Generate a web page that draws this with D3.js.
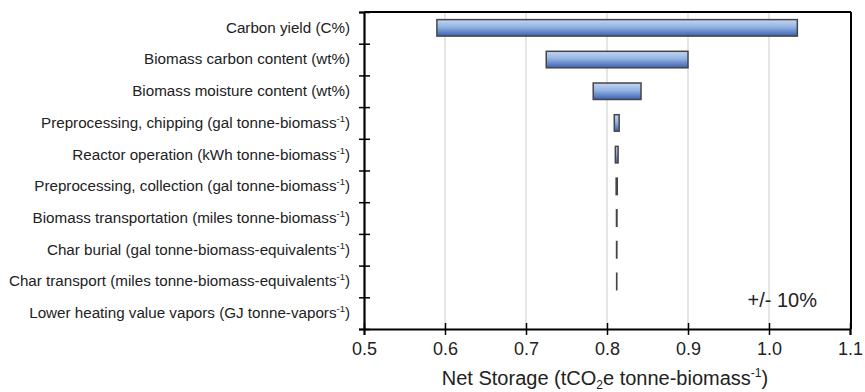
<!DOCTYPE html>
<html>
<head>
<meta charset="utf-8">
<script src="https://cdn.jsdelivr.net/npm/d3@7"></script>
<style>
  html, body { margin: 0; padding: 0; background: #fff; }
  svg { display: block; font-family: "Liberation Sans", Arial, Helvetica, sans-serif; }
</style>
</head>
<body>
<svg id="chart" width="865" height="392"></svg>
<script>
// Tornado chart: sensitivity of net storage to +/- 10% changes in each parameter.
// "^{...}" marks a superscript in a label.
const categories = [
  "Carbon yield (C%)",
  "Biomass carbon content (wt%)",
  "Biomass moisture content (wt%)",
  "Preprocessing, chipping (gal tonne-biomass^{-1})",
  "Reactor operation (kWh tonne-biomass^{-1})",
  "Preprocessing, collection (gal tonne-biomass^{-1})",
  "Biomass transportation (miles tonne-biomass^{-1})",
  "Char burial (gal tonne-biomass-equivalents^{-1})",
  "Char transport (miles tonne-biomass-equivalents^{-1})",
  "Lower heating value vapors (GJ tonne-vapors^{-1})"
];
const lowValues  = [0.590, 0.725, 0.783, 0.809, 0.8103, 0.8113, 0.8117, 0.8118, 0.8119, 0.812];
const highValues = [1.035, 0.900, 0.842, 0.815, 0.8137, 0.8127, 0.8123, 0.8122, 0.8121, 0.812];
const xTicks = [0.5, 0.6, 0.7, 0.8, 0.9, 1.0, 1.1];
const annotation = "+/- 10%";

const W = 865, H = 392;
const margin = { top: 12, right: 15, bottom: 63, left: 364 };
const svg = d3.select("#chart");

const x = d3.scaleLinear().domain([0.5, 1.1]).range([margin.left, W - margin.right]);
const y = d3.scaleBand().domain(categories)
  .range([margin.top, H - margin.bottom])
  .paddingInner(0.48).paddingOuter(0.24);
const yEdge = d3.scaleLinear().domain([0, categories.length])
  .range([margin.top, H - margin.bottom]);

// bar fill gradient
const defs = svg.append("defs");
const grad = defs.append("linearGradient").attr("id", "barGrad")
  .attr("x1", 0).attr("y1", 0).attr("x2", 0).attr("y2", 1);
grad.append("stop").attr("offset", "0%").attr("stop-color", "#c3d7f1");
grad.append("stop").attr("offset", "45%").attr("stop-color", "#94b3e2");
grad.append("stop").attr("offset", "100%").attr("stop-color", "#3a61b4");

// vertical gridlines
svg.append("g").selectAll("line")
  .data(xTicks.slice(1, -1)).join("line")
  .attr("x1", d => x(d)).attr("x2", d => x(d))
  .attr("y1", margin.top).attr("y2", H - margin.bottom)
  .attr("stroke", "#dedede").attr("stroke-width", 1.5);

// bars
const rows = categories.map((c, i) => ({ c, lo: lowValues[i], hi: highValues[i] }));
svg.append("g").selectAll("rect")
  .data(rows).join("rect")
  .attr("x", d => x(d.lo))
  .attr("width", d => x(d.hi) - x(d.lo))
  .attr("y", d => y(d.c))
  .attr("height", y.bandwidth())
  .attr("fill", "url(#barGrad)")
  .attr("stroke", "#454545")
  .attr("stroke-width", d => d.hi > d.lo ? 1.5 : 0);

// frame: top and right
svg.append("line")
  .attr("x1", margin.left).attr("x2", W - margin.right + 1)
  .attr("y1", margin.top).attr("y2", margin.top)
  .attr("stroke", "#000").attr("stroke-width", 2);
svg.append("line")
  .attr("x1", W - margin.right + 1).attr("x2", W - margin.right + 1)
  .attr("y1", margin.top).attr("y2", H - margin.bottom)
  .attr("stroke", "#000").attr("stroke-width", 2);

// bottom axis
const xAxis = svg.append("g")
  .attr("transform", `translate(0,${H - margin.bottom})`)
  .call(d3.axisBottom(x).tickValues(xTicks).tickFormat(d3.format(".1f")).tickSizeOuter(0).tickSize(6));
xAxis.select(".domain").attr("stroke", "#000").attr("stroke-width", 2);
xAxis.selectAll(".tick line").attr("y1", -6).attr("y2", 6).attr("stroke", "#000").attr("stroke-width", 1.5);
xAxis.selectAll(".tick text")
  .attr("y", 13)
  .attr("font-size", 18).attr("fill", "#222")
  .attr("font-family", "Liberation Sans, Arial, sans-serif");

// left axis: boundary ticks
const yEdgeAxis = svg.append("g")
  .attr("transform", `translate(${margin.left},0)`)
  .call(d3.axisLeft(yEdge).tickValues(d3.range(categories.length + 1)).tickFormat("").tickSizeOuter(0).tickSize(5));
yEdgeAxis.select(".domain").attr("stroke", "#000").attr("stroke-width", 2.2);
yEdgeAxis.selectAll(".tick line").attr("x1", 6).attr("x2", -5).attr("stroke", "#000").attr("stroke-width", 1.5);

// left axis: category labels with superscripts
const yLabelAxis = svg.append("g")
  .attr("transform", `translate(${margin.left},0)`)
  .call(d3.axisLeft(y).tickSize(0).tickPadding(14));
yLabelAxis.select(".domain").remove();
yLabelAxis.selectAll(".tick text").each(function (d) {
  const t = d3.select(this)
    .attr("font-size", 15.2).attr("fill", "#222")
    .attr("font-family", "Liberation Sans, Arial, sans-serif");
  t.text(null);
  const m = d.match(/^(.*)\^\{(.*)\}(.*)$/);
  if (!m) { t.text(d); return; }
  t.append("tspan").text(m[1]);
  t.append("tspan").attr("font-size", 9.5).attr("dy", -6).text(m[2]);
  t.append("tspan").attr("dy", 6).text(m[3]);
});

// x axis title
const title = svg.append("text")
  .attr("x", (x(0.5) + x(1.1)) / 2 - 2).attr("y", 385)
  .attr("text-anchor", "middle")
  .attr("font-size", 20).attr("fill", "#222");
title.append("tspan").text("Net Storage (tCO");
title.append("tspan").attr("font-size", 12).attr("dy", 4).text("2");
title.append("tspan").attr("dy", -4).text("e tonne-biomass");
title.append("tspan").attr("font-size", 12).attr("dy", -8).text("-1");
title.append("tspan").attr("dy", 8).text(")");

// annotation
svg.append("text")
  .attr("x", 817).attr("y", 307)
  .attr("text-anchor", "end")
  .attr("font-size", 20).attr("fill", "#222")
  .text(annotation);
</script>
</body>
</html>
